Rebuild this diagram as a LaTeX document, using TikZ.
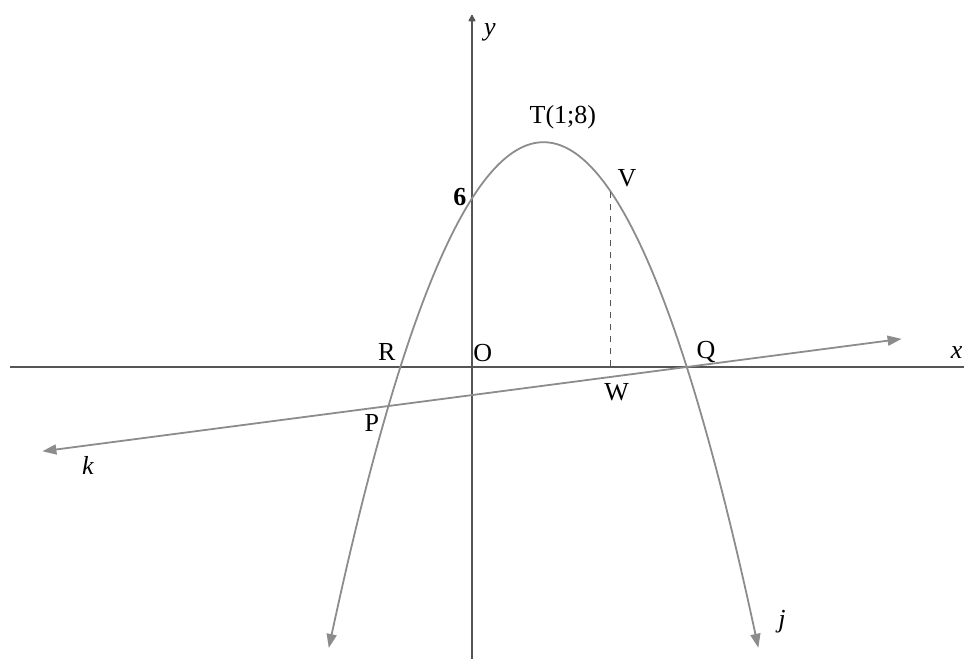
\documentclass[tikz,border=0pt]{standalone}
\usepackage{fontspec}
\setmainfont{Liberation Serif}
\usetikzlibrary{arrows.meta}
\definecolor{axisgray}{RGB}{85,85,85}
\definecolor{curvegray}{RGB}{140,140,140}
\begin{document}
\begin{tikzpicture}
[
	x=35.8pt, y=14.05pt,
	axis/.style={draw=axisgray,line width=1.2pt},
	curve/.style={draw=curvegray,line width=0.9pt,{Triangle[length=7pt,width=5pt]}-{Triangle[length=7pt,width=5pt]}},
	lbl/.style={font=\fontsize{13}{15}\selectfont,inner sep=0pt}
]
	\useasboundingbox (-6.592,-10.391) rectangle (6.872,13.060);

	\coordinate (o) at (0,0);
	\coordinate (xl) at (-6.45,0);
	\coordinate (xr) at (6.872,0);
	\coordinate (yb) at (0,-10.391);
	\coordinate (yt) at (0,12.53);
	\coordinate (v) at (1.94,{-2*(1.94)^2+4*1.94+6});
	\coordinate (w) at (v |- o);
	\coordinate (kl) at (-6,-3);
	\coordinate (kr) at (6,1);

	\draw[axis] (xl) -- (xr);
	\draw[axis,-{Latex[round,length=4pt,width=4.5pt]}] (yb) -- (yt);

	\draw[curve,domain=-2:4,samples=120] plot (\x,{-2*(\x)^2+4*\x+6});
	\draw[curve] (kl) -- (kr);
	\draw[axisgray,thin,dashed] (v) -- (w);

	\node[lbl] at (0.251,11.92) (ylbl) {\textit{y}};
	\node[lbl] at (6.77,0.50) (xlbl) {\textit{x}};
	\node[lbl] at (1.27,8.90) (tlbl) {T(1;8)};
	\node[lbl] at (-0.168,6.05) (six) {\textbf{6}};
	\node[lbl] at (2.165,6.73) (vlbl) {V};
	\node[lbl] at (2.02,-0.89) (wlbl) {W};
	\node[lbl] at (-1.19,0.53) (rlbl) {R};
	\node[lbl] at (0.15,0.50) (olbl) {O};
	\node[lbl] at (3.27,0.53) (qlbl) {Q};
	\node[lbl] at (-1.40,-1.99) (plbl) {P};
	\node[lbl] at (-5.36,-3.49) (klbl) {\textit{k}};
	\node[lbl] at (4.33,-9.07) (jlbl) {\textit{j}};

\end{tikzpicture}
\end{document}
